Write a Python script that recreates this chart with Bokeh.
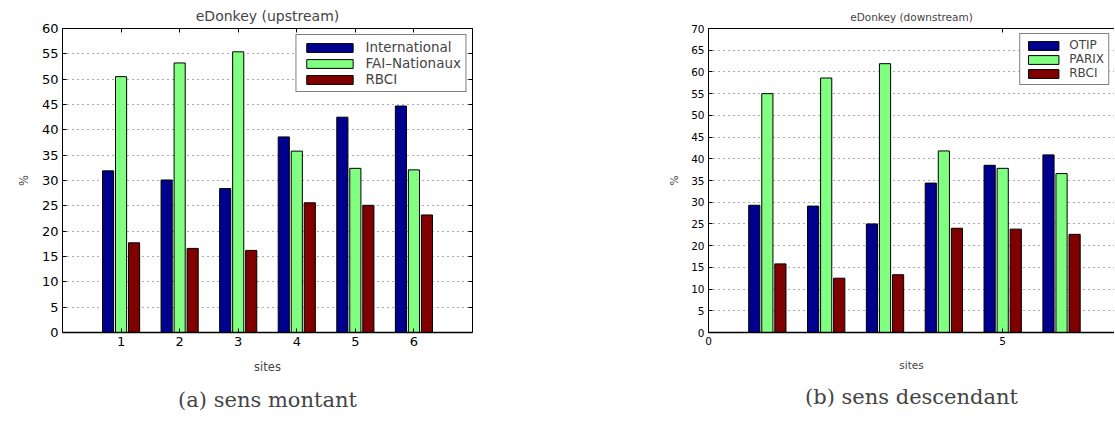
from bokeh.plotting import figure
from bokeh.layouts import row
from bokeh.models import (LinearAxis, FixedTicker, Title, Legend, LegendItem,
                          Range1d, ColumnDataSource)
from bokeh.transform import dodge
from bokeh.embed import file_html
from bokeh.resources import INLINE

# ---- data ----
sites = [1, 2, 3, 4, 5, 6]
up_international = [31.9, 30.1, 28.4, 38.6, 42.5, 44.7]
up_fai_nationaux = [50.5, 53.2, 55.4, 35.8, 32.4, 32.1]
up_rbci = [17.7, 16.6, 16.2, 25.6, 25.1, 23.2]
up_names = ["International", "FAI\u2013Nationaux", "RBCI"]

down_otip = [29.3, 29.1, 25.0, 34.4, 38.5, 40.9]
down_parix = [55.0, 58.6, 61.9, 41.8, 37.8, 36.6]
down_rbci = [15.8, 12.5, 13.3, 24.0, 23.8, 22.6]
down_names = ["OTIP", "PARIX", "RBCI"]

up_xticks = [1, 2, 3, 4, 5, 6]
down_xticks = [0, 5]
up_yticks = list(range(0, 61, 5))
down_yticks = list(range(0, 71, 5))

COLORS = ["#00008F", "#80FF80", "#800000"]
FONT = "DejaVu Sans"


def mirror_axis(ticks):
    return LinearAxis(ticker=FixedTicker(ticks=ticks),
                      major_label_text_font_size="1px",
                      major_label_text_color=None,
                      major_tick_in=4, major_tick_out=0,
                      minor_tick_line_color=None,
                      major_label_standoff=0, axis_line_color="black")


def make_chart(title, series, names, xr, yr, xticks, yticks, width, height,
               bl, br, bt, bb, tick_fs, title_fs, title_standoff, label_fs,
               legend_fs, glyph_w, caption, cap_offset, right_axis, leg_margin):
    src = ColumnDataSource(dict(x=sites, a=series[0], b=series[1], c=series[2]))
    p = figure(width=width, height=height, x_range=Range1d(*xr),
               y_range=Range1d(*yr), output_backend="svg",
               toolbar_location=None, min_border_left=bl,
               min_border_right=br, min_border_top=bt, min_border_bottom=bb)
    p.outline_line_color = None
    p.title.text = title
    p.title.text_font = FONT
    p.title.text_font_size = title_fs
    p.title.text_font_style = "normal"
    p.title.align = "center"
    p.title.standoff = title_standoff

    offs = [-0.222, 0.0, 0.222]
    items = []
    for col, off, color, name in zip(["a", "b", "c"], offs, COLORS, names):
        r = p.vbar(x=dodge("x", off, range=p.x_range), top=col, width=0.19,
                   source=src, fill_color=color, line_color="black",
                   line_width=1)
        items.append(LegendItem(label=name, renderers=[r]))

    p.xaxis.ticker = FixedTicker(ticks=xticks)
    p.yaxis.ticker = FixedTicker(ticks=yticks)
    for ax in (p.xaxis[0], p.yaxis[0]):
        ax.major_tick_in = 4
        ax.major_tick_out = 0
        ax.minor_tick_line_color = None
        ax.axis_line_color = "black"
        ax.major_tick_line_color = "black"
        ax.major_label_text_font = FONT
        ax.major_label_text_font_size = tick_fs
        ax.major_label_text_color = "black"
        ax.axis_label_text_font = FONT
        ax.axis_label_text_font_size = label_fs
        ax.axis_label_text_font_style = "normal"
        ax.major_label_standoff = 4
    p.xaxis.axis_label = "sites"
    p.xaxis.axis_label_standoff = 11
    p.yaxis.axis_label = "%"
    p.yaxis.axis_label_standoff = 8
    p.xaxis.axis_line_width = 1.5

    p.add_layout(mirror_axis(xticks), "above")
    if right_axis:
        p.add_layout(mirror_axis(yticks), "right")

    p.xgrid.grid_line_color = None
    p.ygrid.grid_line_color = "#555555"
    p.ygrid.grid_line_dash = "1 4"
    p.ygrid.grid_line_width = 1

    leg = Legend(items=items, location="top_right")
    leg.label_text_font = FONT
    leg.label_text_font_size = legend_fs
    leg.glyph_width = glyph_w
    leg.glyph_height = 11
    leg.spacing = 0
    leg.padding = 4
    leg.margin = leg_margin
    leg.label_standoff = 7
    leg.label_height = 11
    leg.border_line_color = "black"
    leg.border_line_width = 1.5
    leg.background_fill_alpha = 1
    p.add_layout(leg, "center")

    cap = Title(text=caption, align="center", text_font="DejaVu Serif",
                text_font_size="21px", text_font_style="normal",
                offset=cap_offset, standoff=19)
    p.add_layout(cap, "below")
    return p


left = make_chart("eDonkey (upstream)",
                  [up_international, up_fai_nationaux, up_rbci], up_names,
                  (0, 7), (0, 60), up_xticks, up_yticks,
                  width=590, height=421, bl=62, br=118, bt=27, bb=87,
                  tick_fs="13px", title_fs="14px", title_standoff=10,
                  label_fs="11.5px", legend_fs="13.5px", glyph_w=58,
                  caption="(a) sens montant", cap_offset=-14, right_axis=True,
                  leg_margin=6)

right = make_chart("eDonkey (downstream)",
                   [down_otip, down_parix, down_rbci], down_names,
                   (0, 6.9), (0, 70), down_xticks, down_yticks,
                   width=524, height=421, bl=118, br=0, bt=27, bb=87,
                   tick_fs="10.5px", title_fs="10.5px", title_standoff=11,
                   label_fs="10.5px", legend_fs="12px", glyph_w=38,
                   caption="(b) sens descendant", cap_offset=-7, right_axis=False,
                   leg_margin=5)

layout = row(left, right, spacing=0)
open("out.html", "w").write(file_html(layout, INLINE))
